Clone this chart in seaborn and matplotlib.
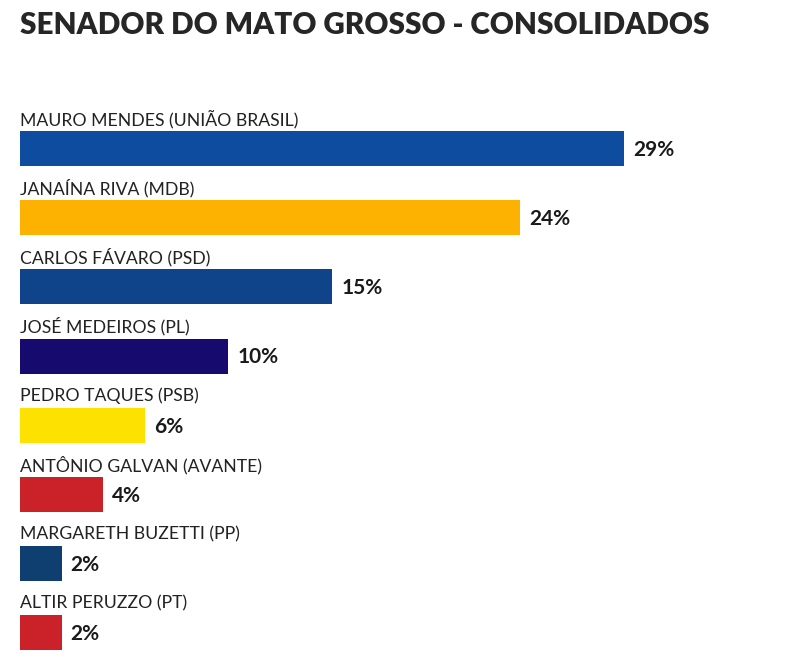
import matplotlib
matplotlib.use("Agg")
import matplotlib.pyplot as plt
import pandas as pd
import seaborn as sns

# Data
candidates = [
    "MAURO MENDES (UNIÃO BRASIL)",
    "JANAÍNA RIVA (MDB)",
    "CARLOS FÁVARO (PSD)",
    "JOSÉ MEDEIROS (PL)",
    "PEDRO TAQUES (PSB)",
    "ANTÔNIO GALVAN (AVANTE)",
    "MARGARETH BUZETTI (PP)",
    "ALTIR PERUZZO (PT)",
]
shares = [29, 24, 15, 10, 6, 4, 2, 2]
bar_colors = ["#0e4c9f", "#fdb100", "#0f438a", "#170a6e",
              "#fde100", "#cb2129", "#0f3f71", "#cb2129"]
title = "SENADOR DO MATO GROSSO - CONSOLIDADOS"

df = pd.DataFrame({"candidato": candidates, "pct": shares})

sns.set_theme(style="white")
plt.rcParams["font.family"] = ["Lato", "DejaVu Sans"]

W, H = 800, 654
fig = plt.figure(figsize=(W / 100, H / 100), dpi=100)
ax = fig.add_axes([20 / W, 0, 780 / W, 1])

sns.barplot(data=df, y="candidato", x="pct", hue="candidato",
            palette=bar_colors, legend=False, width=0.506,
            saturation=1, linewidth=0, ax=ax, orient="h")

px_x = 20.83   # pixels per percentage point
px_y = 69.2    # pixels per category
ax.set_xlim(0, 780 / px_x)
ax.set_ylim((H - 148.5) / px_y, -148.5 / px_y)

for i, (name, v) in enumerate(zip(candidates, shares)):
    ax.text(0, i - 0.43, name, ha="left", va="center",
            fontsize=12.7, color="#222222")
    ax.text(v + 9 / px_x, i + 0.02, f"{v}%", ha="left", va="center",
            fontsize=15, fontweight="bold", color="#1a1a1a")

ax.set_xlabel("")
ax.set_ylabel("")
ax.set_xticks([])
ax.set_yticks([])
sns.despine(ax=ax, left=True, bottom=True)

fig.text(20 / W, 1 - 25 / H, title, ha="left", va="center",
         fontsize=21.3, fontweight="heavy", color="#262626")

fig.savefig("out.png", dpi=100)
